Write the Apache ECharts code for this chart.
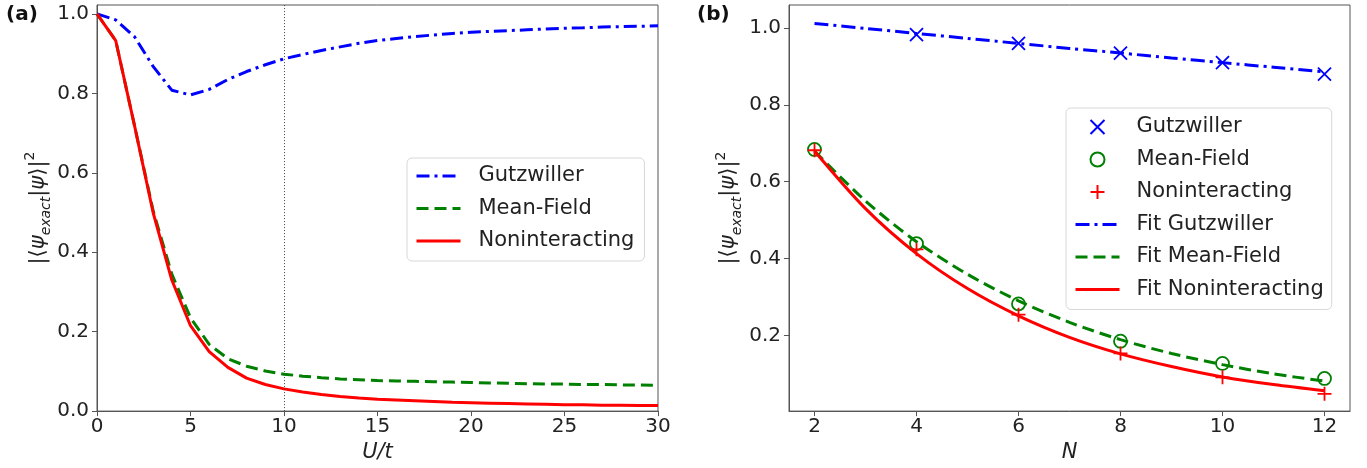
<!DOCTYPE html>
<html>
<head>
<meta charset="utf-8">
<script src="https://cdn.jsdelivr.net/npm/echarts@6/dist/echarts.min.js"></script>
<style>
  html, body { margin: 0; padding: 0; background: #fff; }
  #chart { width: 1367px; height: 468px; }
</style>
</head>
<body>
<div id="chart"></div>
<script>
// panel (a): overlap vs U/t
var uValues = [0, 1, 2, 3, 4, 5, 6, 7, 8, 9, 10, 11, 12, 13, 14, 15, 16, 17, 18, 19, 20,
               21, 22, 23, 24, 25, 26, 27, 28, 29, 30];
var gutzA = [1.0, 0.985, 0.943, 0.868, 0.808, 0.796, 0.81, 0.835, 0.855, 0.872, 0.887,
             0.898, 0.908, 0.917, 0.926, 0.933, 0.938, 0.943, 0.947, 0.951, 0.954,
             0.956, 0.958, 0.960, 0.962, 0.964, 0.965, 0.967, 0.968, 0.969, 0.970];
var meanA = [1.0, 0.933, 0.72, 0.505, 0.345, 0.235, 0.168, 0.132, 0.113, 0.101, 0.093,
             0.088, 0.084, 0.081, 0.079, 0.077, 0.076, 0.075, 0.074, 0.073, 0.072,
             0.071, 0.070, 0.069, 0.068, 0.068, 0.067, 0.067, 0.066, 0.066, 0.065];
var nonA = [1.0, 0.933, 0.72, 0.50, 0.33, 0.215, 0.15, 0.11, 0.083, 0.067, 0.056,
            0.048, 0.042, 0.037, 0.033, 0.030, 0.028, 0.026, 0.024, 0.022, 0.021,
            0.020, 0.019, 0.018, 0.017, 0.016, 0.016, 0.015, 0.015, 0.014, 0.014];
var xTicksA = [0, 5, 10, 15, 20, 25, 30];
var yTicksA = [0, 0.2, 0.4, 0.6, 0.8, 1.0];

// panel (b): overlap vs N
var gutzN = [4, 6, 8, 10, 12];
var gutzPts = [0.983, 0.960, 0.935, 0.910, 0.880];
var ptsN = [2, 4, 6, 8, 10, 12];
var meanPts = [0.684, 0.439, 0.282, 0.185, 0.127, 0.088];
var nonPts = [0.682, 0.424, 0.254, 0.153, 0.091, 0.048];
var fitN = [2, 3, 4, 5, 6, 7, 8, 9, 10, 11, 12];
var fitGutz = [1.012, 0.999, 0.986, 0.973, 0.960, 0.947, 0.935, 0.922, 0.910, 0.898, 0.886];
var fitMean = [0.680, 0.550, 0.444, 0.359, 0.290, 0.234, 0.189, 0.153, 0.124, 0.100, 0.081];
var fitNon = [0.680, 0.530, 0.413, 0.322, 0.251, 0.195, 0.152, 0.119, 0.092, 0.072, 0.056];
var xTicksB = [2, 4, 6, 8, 10, 12];
var yTicksB = [0.2, 0.4, 0.6, 0.8, 1.0];

var FONT = 'DejaVu Sans';
var BLUE = '#0000ff', GREEN = '#008000', RED = '#ff0000';
var AXIS_COL = '#555';

function pairs(xs, ys) {
  return xs.map(function (x, i) { return [x, ys[i]]; });
}

// y axis title |<psi_exact|psi>|^2 as rich text
var yName = '{a|\u007C\u27E8}{p|\u03C8}{s|exact}{a|\u007C}{p|\u03C8}{a|\u27E9\u007C}{sup|2}';
var yRich = {
  a: { fontSize: 21, fontFamily: FONT, color: '#222', lineHeight: 30 },
  p: { fontSize: 21, fontFamily: FONT, fontStyle: 'italic', color: '#222', lineHeight: 30 },
  s: { fontSize: 14, fontFamily: FONT, fontStyle: 'italic', color: '#222', lineHeight: 16, verticalAlign: 'bottom' },
  sup: { fontSize: 14, fontFamily: FONT, color: '#222', lineHeight: 14, verticalAlign: 'top' }
};

function xAxisOpt(idx, min, max, ticks, name) {
  return {
    type: 'value', gridIndex: idx, min: min, max: max,
    name: name, nameLocation: 'middle', nameGap: 30,
    nameTextStyle: { fontSize: 21, fontFamily: FONT, fontStyle: 'italic', color: '#222' },
    axisLine: { show: true, onZero: false, lineStyle: { color: AXIS_COL, width: 1 } },
    axisTick: { show: true, length: 5, lineStyle: { color: AXIS_COL }, customValues: ticks },
    axisLabel: { fontSize: 20, fontFamily: FONT, color: '#222', margin: 6, customValues: ticks },
    splitLine: { show: false }
  };
}
function yAxisOpt(idx, min, max, ticks, gap) {
  return {
    type: 'value', gridIndex: idx, min: min, max: max,
    name: yName, nameLocation: 'middle', nameGap: gap, nameRotate: 90,
    nameTextStyle: { rich: yRich },
    axisLine: { show: true, onZero: false, lineStyle: { color: AXIS_COL, width: 1 } },
    axisTick: { show: true, length: 5, lineStyle: { color: AXIS_COL }, customValues: ticks },
    axisLabel: {
      fontSize: 20, fontFamily: FONT, color: '#222', margin: 8, customValues: ticks,
      formatter: function (v) { return v.toFixed(1); }
    },
    splitLine: { show: false }
  };
}

var legendBase = {
  orient: 'vertical',
  itemWidth: 44, itemHeight: 14, itemGap: 10.5,
  textStyle: { fontSize: 21, fontFamily: FONT, color: '#222', lineHeight: 22, padding: [0, 0, 0, 13] },
  lineStyle: { width: 3 },
  backgroundColor: 'rgba(255,255,255,0.8)',
  borderColor: '#d8d8d8', borderWidth: 1, borderRadius: 5,
  selectedMode: false
};

// line series get a transparent item colour so the legend shows the line only
function lineSeries(name, axis, xs, ys, color, dash, smooth) {
  return {
    name: name, type: 'line', xAxisIndex: axis, yAxisIndex: axis,
    data: pairs(xs, ys), symbol: 'none', smooth: smooth || false,
    lineStyle: { color: color, width: 3, type: dash },
    itemStyle: { color: 'transparent', borderWidth: 0 }
  };
}

var gutzLine = lineSeries('Gutzwiller', 0, uValues, gutzA, BLUE, [13, 5, 3, 5]);
gutzLine.markLine = {
  silent: true, symbol: 'none', label: { show: false },
  lineStyle: { color: '#444', width: 1, type: [1, 2] },
  data: [{ xAxis: 10 }]
};

var chart = echarts.init(document.getElementById('chart'), null, { renderer: 'canvas' });
chart.setOption({
  animation: false,
  backgroundColor: '#fff',
  grid: [
    { left: 97, top: 5, width: 561, height: 409, show: true, borderColor: AXIS_COL, borderWidth: 1, backgroundColor: 'transparent' },
    { left: 789, top: 5, width: 561, height: 409, show: true, borderColor: AXIS_COL, borderWidth: 1, backgroundColor: 'transparent' }
  ],
  xAxis: [
    xAxisOpt(0, 0, 30, xTicksA, 'U/t'),
    xAxisOpt(1, 1.5, 12.5, xTicksB, 'N')
  ],
  yAxis: [
    yAxisOpt(0, 0, 1.0225, yTicksA, 42),
    yAxisOpt(1, 0.003, 1.06, yTicksB, 45)
  ],
  legend: [
    Object.assign({}, legendBase, {
      left: 407, top: 158, padding: [7, 10, 9, 8],
      data: ['Gutzwiller', 'Mean-Field', 'Noninteracting']
    }),
    Object.assign({}, legendBase, {
      left: 1066, top: 108, padding: [8, 8, 9, 8],
      textStyle: Object.assign({}, legendBase.textStyle, { padding: [0, 0, 0, 12] }),
      data: ['Gutzwiller pts', 'Mean-Field pts', 'Noninteracting pts',
             'Fit Gutzwiller', 'Fit Mean-Field', 'Fit Noninteracting'],
      formatter: function (n) { return n.replace(' pts', ''); }
    })
  ],
  graphic: [
    { type: 'text', left: 6, top: 5, style: { text: '(a)', font: 'bold 20px "DejaVu Sans"', fill: '#111' } },
    { type: 'text', left: 697, top: 5, style: { text: '(b)', font: 'bold 20px "DejaVu Sans"', fill: '#111' } }
  ],
  series: [
    gutzLine,
    lineSeries('Mean-Field', 0, uValues, meanA, GREEN, [12, 6]),
    lineSeries('Noninteracting', 0, uValues, nonA, RED, 'solid'),
    {
      name: 'Gutzwiller pts', type: 'scatter', xAxisIndex: 1, yAxisIndex: 1,
      data: pairs(gutzN, gutzPts), symbol: 'path://M0,0L10,10M0,10L10,0', symbolSize: 13,
      itemStyle: { color: 'none', borderColor: BLUE, borderWidth: 1.8, opacity: 1 }
    },
    {
      name: 'Mean-Field pts', type: 'scatter', xAxisIndex: 1, yAxisIndex: 1,
      data: pairs(ptsN, meanPts), symbol: 'circle', symbolSize: 13,
      itemStyle: { color: 'none', borderColor: GREEN, borderWidth: 1.8, opacity: 1 }
    },
    {
      name: 'Noninteracting pts', type: 'scatter', xAxisIndex: 1, yAxisIndex: 1,
      data: pairs(ptsN, nonPts), symbol: 'path://M5,0L5,10M0,5L10,5', symbolSize: 14,
      itemStyle: { color: 'none', borderColor: RED, borderWidth: 1.8, opacity: 1 }
    },
    lineSeries('Fit Gutzwiller', 1, fitN, fitGutz, BLUE, [14, 5, 3, 5], 0.3),
    lineSeries('Fit Mean-Field', 1, fitN, fitMean, GREEN, [12, 6], 0.3),
    lineSeries('Fit Noninteracting', 1, fitN, fitNon, RED, 'solid', 0.3)
  ]
});
</script>
</body>
</html>
